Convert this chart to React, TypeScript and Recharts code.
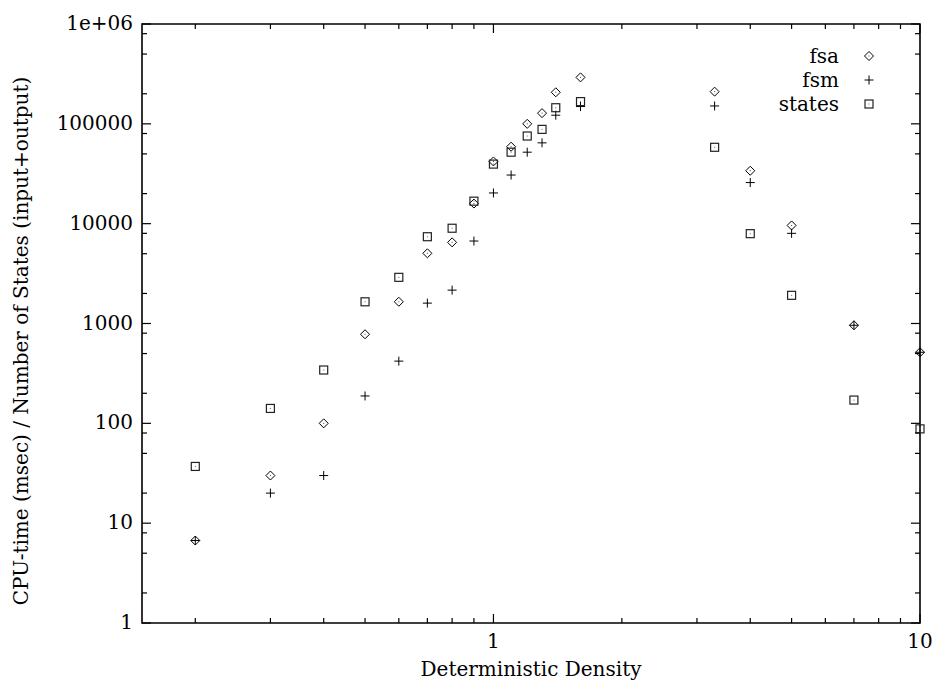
import React from 'react';
import { ScatterChart, Scatter, XAxis, YAxis, ReferenceArea, Legend, Label } from 'recharts';

// deterministic density of the automata
const density = [0.2, 0.3, 0.4, 0.5, 0.6, 0.7, 0.8, 0.9, 1.0, 1.1, 1.2, 1.3, 1.4, 1.6, 3.3, 4, 5, 7, 10];
// CPU time (msec)
const fsaTime = [6.7, 30, 100, 780, 1650, 5050, 6500, 15900, 42000, 59000, 100000, 128000, 207000, 292000, 210000, 33900, 9600, 960, 515];
const fsmTime = [6.7, 20, 30, 188, 420, 1600, 2160, 6700, 20300, 30700, 52000, 64500, 122000, 149000, 151000, 25800, 8000, 960, 515];
// number of states (input + output)
const stateCount = [37, 141, 342, 1650, 2900, 7400, 9000, 16800, 39500, 52000, 75500, 88000, 145000, 167000, 58200, 7940, 1915, 171, 88];

const xMajorTicks = [1, 10];
const xMinorTicks = [0.2, 0.3, 0.4, 0.5, 0.6, 0.7, 0.8, 0.9, 2, 3, 4, 5, 6, 7, 8, 9];
const yMajorTicks = [1, 10, 100, 1000, 10000, 100000, 1000000];
const yMinorTicks = [2, 5, 8, 20, 50, 80, 200, 500, 800, 2000, 5000, 8000, 20000, 50000, 80000, 200000, 500000, 800000];

const W = 933;
const H = 683;
const PLOT = { left: 142, right: 920, top: 24, bottom: 623 };
const FONT = '"DejaVu Serif", serif';
const FS = 20;
const MAJOR_LEN = 9;
const MINOR_LEN = 5;

const toPoints = (ys: number[]) => density.map((x, i) => ({ x, y: ys[i] }));
const fsaData = toPoints(fsaTime);
const fsmData = toPoints(fsmTime);
const statesData = toPoints(stateCount);

const xTicks = [...xMinorTicks, ...xMajorTicks].sort((a, b) => a - b);
const yTicks = [...yMinorTicks, ...yMajorTicks].sort((a, b) => a - b);

const fmtY = (v: number) => (v >= 1000000 ? '1e+06' : String(v));

const R = 4.5;

function DiamondMark({ cx, cy }: { cx: number; cy: number }) {
  return (
    <g>
      <path
        d={`M${cx},${cy - R}L${cx + R},${cy}L${cx},${cy + R}L${cx - R},${cy}Z`}
        fill="none"
        stroke="#000"
        strokeWidth={1}
      />
      <rect x={cx - 0.5} y={cy - 0.5} width={1} height={1} fill="#444" />
    </g>
  );
}

function PlusMark({ cx, cy }: { cx: number; cy: number }) {
  return (
    <g stroke="#000" strokeWidth={1}>
      <line x1={cx - R} x2={cx + R} y1={cy} y2={cy} />
      <line x1={cx} x2={cx} y1={cy - R} y2={cy + R} />
    </g>
  );
}

function SquareMark({ cx, cy }: { cx: number; cy: number }) {
  return (
    <g>
      <rect x={cx - 4} y={cy - 4} width={8} height={8} fill="none" stroke="#222" strokeWidth={1.2} />
      <rect x={cx - 0.5} y={cy - 0.5} width={1} height={1} fill="#666" />
    </g>
  );
}

const markers: Record<string, (p: { cx: number; cy: number }) => React.ReactElement> = {
  fsa: DiamondMark,
  fsm: PlusMark,
  states: SquareMark,
};

function XTick(props: any) {
  const { x, payload } = props;
  const v = payload.value;
  const major = xMajorTicks.includes(v);
  const len = major ? MAJOR_LEN : MINOR_LEN;
  return (
    <g>
      <line x1={x} x2={x} y1={PLOT.bottom} y2={PLOT.bottom - len} stroke="#000" strokeWidth={1.2} />
      <line x1={x} x2={x} y1={PLOT.top} y2={PLOT.top + len} stroke="#000" strokeWidth={1.2} />
      {major && (
        <text x={x} y={PLOT.bottom + 25} textAnchor="middle" fontSize={FS} fill="#000">
          {v}
        </text>
      )}
    </g>
  );
}

function YTick(props: any) {
  const { y, payload } = props;
  const v = payload.value;
  const major = yMajorTicks.includes(v);
  const len = major ? MAJOR_LEN : MINOR_LEN;
  return (
    <g>
      <line x1={PLOT.left} x2={PLOT.left + len} y1={y} y2={y} stroke="#000" strokeWidth={1.2} />
      <line x1={PLOT.right} x2={PLOT.right - len} y1={y} y2={y} stroke="#000" strokeWidth={1.2} />
      {major && (
        <text x={PLOT.left - 9} y={y} dy={6} textAnchor="end" fontSize={FS} fill="#000">
          {fmtY(v)}
        </text>
      )}
    </g>
  );
}

function XTitle(props: any) {
  const vb = props.viewBox;
  return (
    <text x={vb.x + vb.width / 2} y={H - 7} textAnchor="middle" fontSize={FS} fill="#000">
      Deterministic Density
    </text>
  );
}

function YTitle() {
  const x = 28;
  const y = 341;
  return (
    <text x={x} y={y} transform={`rotate(-90 ${x} ${y})`} textAnchor="middle" fontSize={FS} fill="#000">
      CPU-time (msec) / Number of States (input+output)
    </text>
  );
}

function LegendBox(props: any) {
  const payload = props.payload || [];
  return (
    <div style={{ fontFamily: FONT, fontSize: FS, color: '#000' }}>
      {payload.map((entry: any) => {
        const Mark = markers[entry.value];
        return (
          <div key={entry.value} style={{ display: 'flex', alignItems: 'center', height: 24 }}>
            <span style={{ width: 149, textAlign: 'right', lineHeight: '24px' }}>{entry.value}</span>
            <svg width={16} height={16} style={{ marginLeft: 22, overflow: 'visible' }}>
              {Mark && <Mark cx={8} cy={8} />}
            </svg>
          </div>
        );
      })}
    </div>
  );
}

export default function App() {
  return (
    <div style={{ position: 'absolute', left: 0, top: 0, width: W, height: H, background: '#fff', fontFamily: FONT }}>
      <ScatterChart width={W} height={H} margin={{ top: PLOT.top, right: W - PLOT.right, bottom: 0, left: 0 }}>
        <XAxis
          type="number"
          dataKey="x"
          scale="log"
          domain={[0.15, 10]}
          ticks={xTicks}
          interval={0}
          tickLine={false}
          axisLine={false}
          tick={(p: any) => <XTick {...p} />}
          height={H - PLOT.bottom}
        >
          <Label content={(p: any) => <XTitle {...p} />} />
        </XAxis>
        <YAxis
          type="number"
          dataKey="y"
          scale="log"
          domain={[1, 1000000]}
          ticks={yTicks}
          interval={0}
          tickLine={false}
          axisLine={false}
          tick={(p: any) => <YTick {...p} />}
          width={PLOT.left}
        >
          <Label content={() => <YTitle />} />
        </YAxis>
        <ReferenceArea x1={0.15} x2={10} y1={1} y2={1000000} fill="none" stroke="#000" strokeWidth={1.6} fillOpacity={0} />
        <Legend
          layout="vertical"
          align="center"
          verticalAlign="middle"
          content={(p: any) => <LegendBox {...p} />}
          wrapperStyle={{ top: 44, left: 690, width: 200, right: 'auto', bottom: 'auto' }}
        />
        <Scatter name="fsa" data={fsaData} isAnimationActive={false} shape={(p: any) => <DiamondMark cx={p.cx} cy={p.cy} />} />
        <Scatter name="fsm" data={fsmData} isAnimationActive={false} shape={(p: any) => <PlusMark cx={p.cx} cy={p.cy} />} />
        <Scatter name="states" data={statesData} isAnimationActive={false} shape={(p: any) => <SquareMark cx={p.cx} cy={p.cy} />} />
      </ScatterChart>
    </div>
  );
}
